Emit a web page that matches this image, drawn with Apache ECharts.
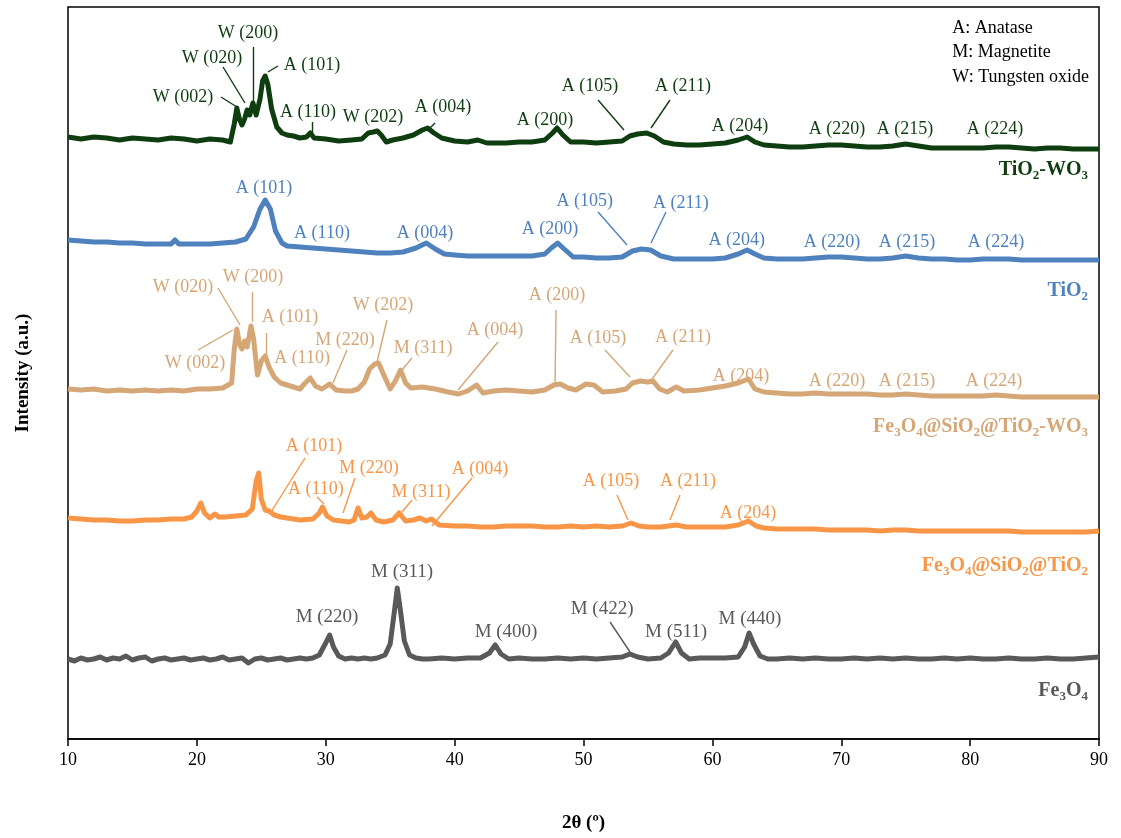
<!DOCTYPE html>
<html>
<head>
<meta charset="utf-8">
<script src="https://cdn.jsdelivr.net/npm/echarts@6/dist/echarts.min.js"></script>
<style>
html,body{margin:0;padding:0;background:#fff;}
#chart{width:1121px;height:838px;}
</style>
</head>
<body>
<div id="chart"></div>
<script>
// XRD 数据: [2θ, 强度(a.u., 已叠加偏移)]
var tio2Wo3 = [[10,602],[11,600],[12,602],[13,601],[14,599],[15,601],[16,600],[17,599],[18,601],[19,600],[20,598],[21,600],[22,599],[22.6,597],[22.9,615],[23.1,631],[23.3,620],[23.5,614],[23.7,620],[23.9,629],[24.1,624],[24.35,636],[24.6,624],[24.9,640],[25.1,658],[25.3,663],[25.5,655],[25.8,630],[26.2,612],[26.6,606],[27,604],[27.5,603],[28,601],[28.5,602],[28.8,606],[29.1,601],[30,600],[31,598],[32,599],[32.8,600],[33.3,606],[33.7,607],[34,608],[34.3,604],[34.7,597],[35.2,599],[36,601],[36.8,604],[37.5,609],[37.9,611],[38.4,606],[39,601],[40,598],[41,597],[41.8,599],[42.5,596],[44,596],[45,597],[46,597],[47,599],[47.6,606],[47.95,611],[48.4,604],[49,597],[50,597],[51,596],[52,597],[53,598],[53.6,603],[54.2,605],[54.9,606],[55.5,603],[56.2,597],[57,595],[58,594],[59,594],[60,595],[61,596],[62,599],[62.7,602],[63.3,597],[64,594],[65,593],[66,592],[67,592],[68,593],[69,594],[70,594],[71,593],[72,592],[73,592],[74,593],[75,595],[76,593],[77,591],[78,591],[79,591],[80,591],[81,591],[82,592],[83,592],[84,591],[85,590],[86,591],[87,591],[88,590],[89,590],[90,590]];

var tio2 = [[10,499],[11,498],[12,497],[13,497],[14,496],[15,496],[16,495],[17,495],[18,495],[18.3,499],[18.6,495],[19,495],[20,495],[21,495],[22,496],[23,497],[23.8,500],[24.4,512],[24.9,530],[25.3,539],[25.7,530],[26.1,508],[26.6,496],[27,493],[28,492],[29,491],[30,490],[31,489],[32,488],[33,487],[34,486],[35,486],[36,487],[37,491],[37.8,496],[38.5,490],[39.2,485],[40,484],[41,483],[42,483],[43,483],[44,483],[45,483],[46,483],[47,485],[47.5,491],[48,496],[48.5,490],[49.2,482],[50,482],[51,481],[52,481],[53,482],[53.8,488],[54.5,490],[55.2,489],[56,483],[57,480],[58,480],[59,480],[60,480],[61,481],[62,485],[62.7,489],[63.3,485],[64,481],[65,480],[66,480],[67,480],[68,481],[69,482],[70,482],[71,481],[72,480],[73,480],[74,481],[75,483],[76,481],[77,480],[78,480],[79,479],[80,479],[81,480],[82,480],[83,480],[84,479],[85,479],[86,479],[87,479],[88,479],[89,479],[90,479]];

var fsTiWo = [[10,350],[11,349],[12,350],[13,348],[14,349],[15,348],[16,349],[17,348],[18,349],[19,348],[20,350],[21,350],[22,351],[22.7,356],[22.9,390],[23.1,410],[23.3,395],[23.5,390],[23.7,398],[23.9,392],[24.2,413],[24.4,400],[24.7,364],[25,378],[25.3,383],[25.6,372],[26,362],[26.5,356],[27,354],[27.5,352],[28,350],[28.4,356],[28.8,361],[29.2,353],[29.7,350],[30.3,355],[30.8,349],[31.5,348],[32,348],[32.5,350],[33,357],[33.4,370],[33.8,375],[34.1,376],[34.5,364],[35,350],[35.4,358],[35.8,369],[36.2,356],[36.6,351],[37.5,352],[38.5,350],[39.5,347],[40.3,345],[41,348],[41.7,354],[42.2,346],[43,348],[44,349],[45,348],[46,347],[47,349],[47.7,354],[48.2,355],[48.8,351],[49.4,349],[50.2,355],[50.8,354],[51.5,347],[52.5,348],[53.3,350],[53.8,356],[54.4,358],[55,357],[55.4,358],[55.9,350],[56.5,347],[57.2,352],[57.8,348],[59,349],[60,351],[61,353],[62,356],[62.8,360],[63.3,350],[64,347],[65,346],[66,345],[67,345],[68,346],[69,345],[70,345],[71,345],[72,345],[73,344],[74,344],[75,345],[76,344],[77,343],[78,343],[79,343],[80,343],[81,343],[82,344],[83,343],[84,342],[85,342],[86,342],[87,342],[88,342],[89,342],[90,342]];

var fsTi = [[10,221],[11,220],[12,219],[13,219],[14,218],[15,218],[16,219],[17,219],[18,220],[19,220],[19.6,222],[20,228],[20.3,236],[20.6,226],[21,221],[21.4,225],[21.7,222],[22.2,222],[23,223],[23.8,224],[24.3,230],[24.6,258],[24.8,266],[25,240],[25.3,229],[25.6,228],[26,224],[26.5,222],[27,221],[28,219],[29,220],[29.5,226],[29.75,232],[30.1,223],[30.6,219],[31.2,218],[31.8,217],[32.2,219],[32.5,231],[32.8,221],[33.2,222],[33.5,226],[33.9,219],[34.5,217],[35.2,219],[35.7,226],[36.2,218],[36.8,219],[37.3,221],[37.8,218],[38.2,220],[38.8,214],[40,213],[41,213],[42,212],[43,212],[44,213],[45,213],[46,213],[47,212],[48,212],[49,213],[50,212],[51,213],[52,212],[53,213],[53.7,216],[54.3,213],[55,212],[56,212],[57.2,214],[58,212],[59,212],[60,212],[61,212],[62,214],[62.8,218],[63.4,213],[64,211],[65,210],[66,210],[67,210],[68,210],[69,209],[70,209],[71,209],[72,209],[73,208],[74,209],[75,209],[76,208],[77,208],[78,208],[79,208],[80,208],[81,208],[82,208],[83,208],[84,207],[85,207],[86,207],[87,207],[88,207],[89,207],[90,208]];

var fe3o4 = [[10,80],[10.5,78],[11,81],[11.5,79],[12,80],[12.5,82],[13,79],[13.5,81],[14,80],[14.5,83],[15,79],[15.5,81],[16,82],[16.5,78],[17,80],[17.5,81],[18,79],[18.5,80],[19,81],[19.5,79],[20,80],[20.5,81],[21,79],[21.5,80],[22,82],[22.5,79],[23,80],[23.5,81],[24,76],[24.5,80],[25,81],[25.5,79],[26,80],[26.5,81],[27,79],[27.5,80],[28,81],[28.5,80],[29,81],[29.5,84],[30,96],[30.3,104],[30.6,92],[31,83],[31.5,80],[32,81],[32.5,80],[33,81],[33.5,80],[34,81],[34.6,84],[35,95],[35.3,125],[35.55,151],[35.8,128],[36.1,98],[36.5,84],[37,81],[37.5,80],[38,80],[39,81],[40,80],[41,81],[42,81],[42.7,86],[43.15,94],[43.6,85],[44.2,80],[45,81],[46,80],[47,80],[48,81],[49,80],[50,81],[51,80],[52,81],[53,82],[53.6,85],[54.2,82],[55,80],[56,81],[56.6,86],[57.15,97],[57.6,86],[58.2,80],[59,81],[60,81],[61,81],[62,82],[62.5,92],[62.85,106],[63.2,95],[63.7,83],[64.3,80],[65,80],[66,81],[67,80],[68,81],[69,80],[70,80],[71,81],[72,80],[73,81],[74,80],[75,81],[76,80],[77,80],[78,81],[79,80],[80,81],[81,80],[82,80],[83,81],[84,80],[85,80],[86,81],[87,80],[88,80],[89,81],[90,82]];

var xTicks = [10, 20, 30, 40, 50, 60, 70, 80, 90];

// 峰标注: [文字, 文字x, 文字y, 引线起x, 起y, 终x, 终y]
var annoTiWo = [
    ['W (002)', 18.92, 642, 21.87, 642, 23.11, 632],
    ['W (020)', 21.17, 681, 22.03, 672, 23.73, 636],
    ['W (200)', 23.97, 706, 24.35, 692, 24.35, 635],
    ['A (101)', 28.93, 674, 26.29, 673, 25.52, 667],
    ['A (110)', 28.62, 627, 28.93, 617, 28.93, 606],
    ['W (202)', 33.67, 622],
    ['A (004)', 39.1, 632, 38.48, 616, 37.93, 609],
    ['A (200)', 47.01, 619],
    ['A (105)', 50.5, 653, 51.13, 639, 53.14, 609],
    ['A (211)', 57.72, 653, 56.71, 639, 55.24, 611],
    ['A (204)', 62.14, 613],
    ['A (220)', 69.67, 610],
    ['A (215)', 74.95, 610],
    ['A (224)', 81.93, 610]
];
var annoTi = [
    ['A (101)', 25.2, 551],
    ['A (110)', 29.71, 506],
    ['A (004)', 37.7, 506],
    ['A (200)', 47.4, 510],
    ['A (105)', 50.1, 538, 51.13, 527, 53.38, 494],
    ['A (211)', 57.56, 536, 56.4, 527, 55.24, 496],
    ['A (204)', 61.9, 499],
    ['A (220)', 69.28, 497],
    ['A (215)', 75.1, 497],
    ['A (224)', 82.0, 497]
];
var annoFsTiWo = [
    ['W (020)', 18.92, 452, 21.64, 451, 23.35, 414],
    ['W (200)', 24.35, 462, 24.28, 447, 24.28, 417],
    ['W (002)', 19.85, 376, 20.09, 389, 22.8, 409],
    ['A (101)', 27.23, 422, 25.36, 406, 25.36, 384],
    ['A (110)', 28.16, 381],
    ['M (220)', 31.49, 399, 31.65, 389, 30.56, 356],
    ['W (202)', 34.44, 434, 34.75, 419, 33.98, 377],
    ['M (311)', 37.55, 391, 36.69, 381, 35.92, 369],
    ['A (004)', 43.13, 409, 43.37, 397, 40.26, 349],
    ['A (200)', 47.94, 444, 47.87, 429, 47.79, 354],
    ['A (105)', 51.13, 401, 51.67, 389, 53.61, 362],
    ['A (211)', 57.72, 402, 56.94, 389, 55.16, 357],
    ['A (204)', 62.22, 363],
    ['A (220)', 69.67, 358],
    ['A (215)', 75.1, 358],
    ['A (224)', 81.85, 358]
];
var annoFsTi = [
    ['A (101)', 29.09, 293, 28.39, 281, 25.75, 227],
    ['A (110)', 29.24, 250, 29.32, 242, 29.86, 235],
    ['M (220)', 33.36, 271, 32.27, 261, 31.34, 226],
    ['M (311)', 37.39, 247, 36.69, 239, 35.92, 227],
    ['A (004)', 41.97, 270, 41.35, 261, 38.24, 213],
    ['A (105)', 52.13, 258, 52.6, 244, 53.45, 219],
    ['A (211)', 58.11, 258, 57.49, 244, 56.71, 219],
    ['A (204)', 62.76, 226]
];
var annoFe = [
    ['M (311)', 35.92, 167],
    ['M (220)', 30.1, 122],
    ['M (400)', 43.99, 107],
    ['M (422)', 51.44, 130, 52.06, 117, 53.61, 87],
    ['M (511)', 57.18, 107],
    ['M (440)', 62.92, 120]
];

var legendLines = ['A: Anatase', 'M: Magnetite', 'W: Tungsten oxide'];

var font = '"Liberation Serif", "Times New Roman", serif';
var cGreen = '#0e3d10', cBlue = '#4f81bd', cTan = '#d5a676', cOrange = '#f79646', cGray = '#595959';

function lineSeries(name, data, color) {
    return {
        name: name, type: 'line', data: data, showSymbol: false, smooth: false,
        lineStyle: { color: color, width: 5, join: 'round' }, z: 3
    };
}

function annoSeries(list, color, size) {
    return {
        type: 'scatter', symbolSize: 0.1, silent: true, z: 5,
        itemStyle: { color: 'transparent', opacity: 1 },
        data: list.map(function (a) { return { name: a[0], value: [a[1], a[2]] }; }),
        label: {
            show: true, position: 'inside', formatter: '{b}', opacity: 1,
            color: color, fontFamily: font, fontSize: size || 18
        },
        markLine: {
            silent: true, symbol: 'none', animation: false,
            lineStyle: { color: color, width: 1.4, type: 'solid', opacity: 1 },
            label: { show: false },
            data: list.filter(function (a) { return a.length > 3; }).map(function (a) {
                return [{ coord: [a[3], a[4]] }, { coord: [a[5], a[6]] }];
            })
        }
    };
}

// 样品名(带下标)
function nameSeries(parts, x, y, color) {
    var txt = parts.map(function (p) {
        return p[1] ? '{s|' + p[0] + '}' : '{n|' + p[0] + '}';
    }).join('');
    return {
        type: 'scatter', symbolSize: 0.1, silent: true, z: 5,
        itemStyle: { color: 'transparent', opacity: 1 },
        data: [{ value: [x, y] }],
        label: {
            show: true, position: 'left', distance: 0, formatter: txt, opacity: 1,
            rich: {
                n: { fontFamily: font, fontWeight: 'bold', fontSize: 20, color: color, verticalAlign: 'top', lineHeight: 22 },
                s: { fontFamily: font, fontWeight: 'bold', fontSize: 13, color: color, verticalAlign: 'top', lineHeight: 22, padding: [9, 0, 0, 0] }
            }
        }
    };
}

var myChart = echarts.init(document.getElementById('chart'));

var option = {
    animation: false,
    backgroundColor: '#fff',
    grid: { left: 68, right: 22, top: 7, bottom: 99, show: true, borderColor: '#000', borderWidth: 1.5 },
    xAxis: {
        type: 'value', min: 10, max: 90, interval: 10,
        name: '2θ (º)', nameLocation: 'middle', nameGap: 75,
        nameTextStyle: { fontFamily: font, fontWeight: 'bold', fontSize: 19, color: '#000' },
        axisLine: { show: true, lineStyle: { color: '#000', width: 1.5 } },
        axisTick: { show: true, inside: false, length: 7, lineStyle: { color: '#000', width: 1.5 } },
        axisLabel: {
            fontFamily: font, fontSize: 18, color: '#000', margin: 12,
            formatter: function (v) { return xTicks.indexOf(v) >= 0 ? String(v) : ''; }
        },
        splitLine: { show: false }
    },
    yAxis: {
        type: 'value', min: 0, max: 732,
        name: 'Intensity (a.u.)', nameLocation: 'middle', nameGap: 35,
        nameTextStyle: { fontFamily: font, fontWeight: 'bold', fontSize: 19, color: '#000' },
        axisLine: { show: false }, axisTick: { show: false }, axisLabel: { show: false },
        splitLine: { show: false }
    },
    graphic: [{
        type: 'group', right: 32, top: 19,
        children: legendLines.map(function (t, i) {
            return {
                type: 'text', x: 0, y: i * 24.5,
                style: { text: t, fontFamily: font, fontSize: 18, fill: '#000' }
            };
        })
    }],
    series: [
        lineSeries('Fe3O4', fe3o4, cGray),
        lineSeries('Fe3O4@SiO2@TiO2', fsTi, cOrange),
        lineSeries('Fe3O4@SiO2@TiO2-WO3', fsTiWo, cTan),
        lineSeries('TiO2', tio2, cBlue),
        lineSeries('TiO2-WO3', tio2Wo3, cGreen),
        annoSeries(annoTiWo, cGreen),
        annoSeries(annoTi, cBlue),
        annoSeries(annoFsTiWo, cTan),
        annoSeries(annoFsTi, cOrange),
        annoSeries(annoFe, cGray, 19),
        nameSeries([['TiO'], ['2', 1], ['-WO'], ['3', 1]], 89.15, 568, cGreen),
        nameSeries([['TiO'], ['2', 1]], 89.15, 447, cBlue),
        nameSeries([['Fe'], ['3', 1], ['O'], ['4', 1], ['@SiO'], ['2', 1], ['@TiO'], ['2', 1], ['-WO'], ['3', 1]], 89.15, 311, cTan),
        nameSeries([['Fe'], ['3', 1], ['O'], ['4', 1], ['@SiO'], ['2', 1], ['@TiO'], ['2', 1]], 89.15, 172, cOrange),
        nameSeries([['Fe'], ['3', 1], ['O'], ['4', 1]], 89.15, 47, cGray)
    ]
};

myChart.setOption(option);
</script>
</body>
</html>
